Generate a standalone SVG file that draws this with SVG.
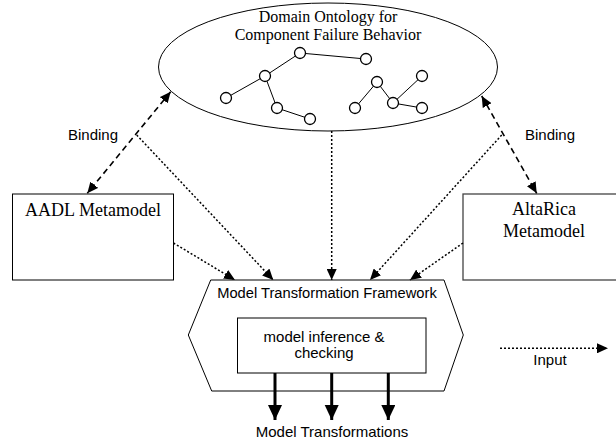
<svg xmlns="http://www.w3.org/2000/svg" width="616" height="445" viewBox="0 0 616 445">
<style>
.serif{font-family:"Liberation Serif","Times New Roman",serif;fill:#000}
.sans{font-family:"Liberation Sans",Arial,sans-serif;fill:#000}
.shape{fill:#fff;stroke:#000;stroke-width:1}
.onto line{stroke:#000;stroke-width:1}
.onto circle{fill:#fff;stroke:#000;stroke-width:1.3}
.dot{stroke:#000;stroke-width:1.5;stroke-dasharray:2 2;fill:none}
.dash{stroke:#000;stroke-width:1.6;stroke-dasharray:6 4;fill:none}
.thick{stroke:#000;stroke-width:3;fill:none}
</style>
<defs>
<marker id="ah" markerUnits="userSpaceOnUse" markerWidth="12" markerHeight="10" refX="11" refY="5" orient="auto">
<path d="M0,0 L11,5 L0,10 Z" fill="#000"/>
</marker>
<marker id="ahs" markerUnits="userSpaceOnUse" markerWidth="12" markerHeight="10" refX="1" refY="5" orient="auto">
<path d="M12,0 L1,5 L12,10 Z" fill="#000"/>
</marker>
<marker id="ahb" markerUnits="userSpaceOnUse" markerWidth="15" markerHeight="15" refX="15" refY="7" orient="auto">
<path d="M0,0 L15,7 L0,14 Z" fill="#000"/>
</marker>
</defs>

<g id="ontology">
<ellipse class="shape" cx="328" cy="67" rx="169.5" ry="64"/>
<text class="serif" font-size="16" x="328" y="22" text-anchor="middle">Domain Ontology for</text>
<text class="serif" font-size="16" x="328" y="40" text-anchor="middle">Component Failure Behavior</text>
<g class="onto">
<line x1="226" y1="98" x2="265" y2="76"/>
<line x1="265" y1="76" x2="300" y2="53"/>
<line x1="300" y1="53" x2="366" y2="59"/>
<line x1="265" y1="76" x2="277" y2="108"/>
<line x1="277" y1="108" x2="310" y2="119"/>
<line x1="355" y1="108" x2="377" y2="82"/>
<line x1="377" y1="82" x2="393" y2="103"/>
<line x1="393" y1="103" x2="422" y2="76"/>
<line x1="393" y1="103" x2="422" y2="108"/>
<circle cx="300" cy="53" r="5.5"/>
<circle cx="366" cy="59" r="5.5"/>
<circle cx="265" cy="76" r="5.5"/>
<circle cx="226" cy="98" r="5.5"/>
<circle cx="277" cy="108" r="5.5"/>
<circle cx="310" cy="119" r="5.5"/>
<circle cx="377" cy="82" r="5.5"/>
<circle cx="422" cy="76" r="5.5"/>
<circle cx="355" cy="108" r="5.5"/>
<circle cx="393" cy="103" r="5.5"/>
<circle cx="422" cy="108" r="5.5"/>
</g>
</g>

<g id="aadl">
<rect class="shape" x="12.5" y="194" width="161" height="86"/>
<text class="serif" font-size="18" x="93" y="216" text-anchor="middle">AADL Metamodel</text>
</g>

<g id="altarica">
<rect class="shape" x="463" y="194" width="160" height="86" style="stroke:#444;stroke-width:1.3"/>
<text class="serif" font-size="18" x="544" y="215" text-anchor="middle">AltaRica</text>
<text class="serif" font-size="18" x="544" y="236.5" text-anchor="middle">Metamodel</text>
</g>

<g id="framework">
<polygon class="shape" points="210.7,280 444,280 463.3,335 444,391 211.7,391 188.3,335"/>
<text class="sans" font-size="14.7" x="327" y="298" text-anchor="middle">Model Transformation Framework</text>
</g>

<g id="inference">
<rect class="shape" x="237.5" y="318" width="188.5" height="55"/>
<text class="sans" font-size="15" x="324" y="342" text-anchor="middle">model inference &amp;</text>
<text class="sans" font-size="15" x="324" y="357.5" text-anchor="middle">checking</text>
</g>

<g id="outputs">
<text class="sans" font-size="15" x="332" y="436.5" text-anchor="middle">Model Transformations</text>
</g>

<g id="legend">
<text class="sans" font-size="15" x="550" y="365" text-anchor="middle">Input</text>
</g>

<g id="bindings">
<text class="sans" font-size="15" x="93" y="140" text-anchor="middle">Binding</text>
<text class="sans" font-size="15" x="550" y="140" text-anchor="middle">Binding</text>
</g>

<g id="connectors">
<line class="dash" x1="170.7" y1="91.7" x2="87.3" y2="193.3" marker-start="url(#ahs)" marker-end="url(#ah)"/>
<line class="dash" x1="481.7" y1="96" x2="536.7" y2="193.3" marker-start="url(#ahs)" marker-end="url(#ah)"/>
<line class="dot" x1="173.5" y1="243" x2="235" y2="280" marker-end="url(#ah)"/>
<line class="dot" x1="136.7" y1="135" x2="273.3" y2="280" marker-end="url(#ah)"/>
<line class="dot" x1="331.7" y1="131" x2="331.7" y2="280" marker-end="url(#ah)"/>
<line class="dot" x1="501.7" y1="135" x2="370" y2="280" marker-end="url(#ah)"/>
<line class="dot" x1="463" y1="243" x2="410" y2="280" marker-end="url(#ah)"/>
<line class="thick" x1="275" y1="373" x2="275" y2="420" marker-end="url(#ahb)"/>
<line class="thick" x1="331.7" y1="373" x2="331.7" y2="420" marker-end="url(#ahb)"/>
<line class="thick" x1="388.3" y1="373" x2="388.3" y2="420" marker-end="url(#ahb)"/>
<line class="dot" x1="500" y1="348.3" x2="608" y2="348.3" marker-end="url(#ah)"/>
</g>
</svg>
